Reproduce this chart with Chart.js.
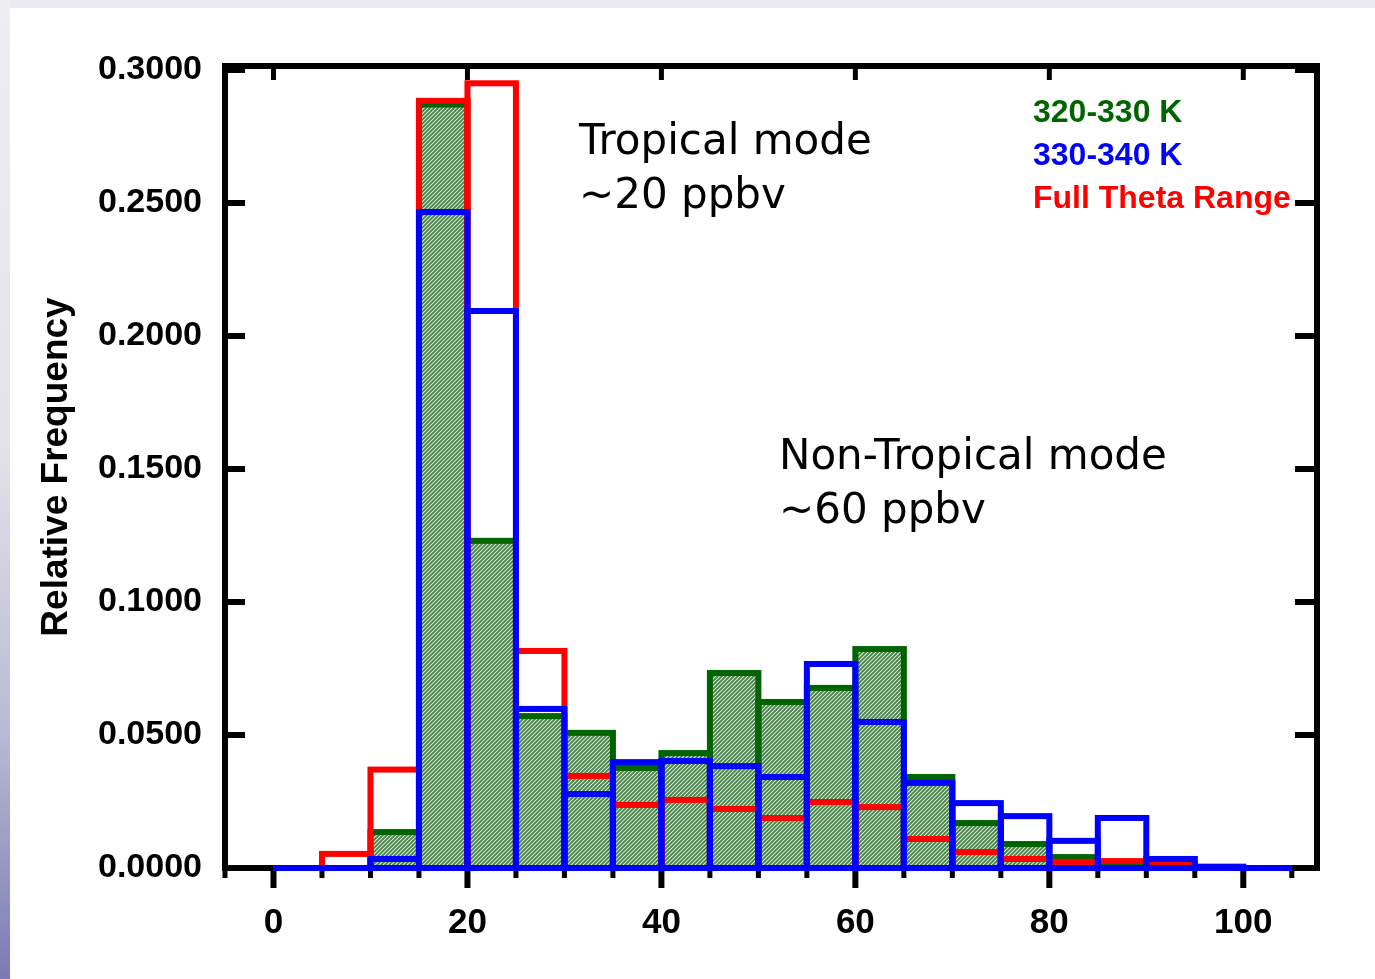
<!DOCTYPE html>
<html>
<head>
<meta charset="utf-8">
<title>Relative Frequency histogram</title>
<script src="https://cdn.jsdelivr.net/npm/chart.js@4.4.0/dist/chart.umd.min.js"></script>
<style>
  html, body { margin: 0; padding: 0; }
  body { width: 1375px; height: 979px; position: relative; overflow: hidden; background: #e9e9ef; }
  #side { position: absolute; left: 0; top: 0; width: 10px; height: 979px;
          background: linear-gradient(#ededf2 0%, #e3e3ea 45%, #b9b9d5 75%, #7b7bb3 100%); }
  #page { position: absolute; left: 10px; top: 8px; right: 0; bottom: 0; background: #fff; }
  canvas { position: absolute; left: 0; top: 0; }
</style>
</head>
<body>
<div id="side"></div>
<div id="page"></div>
<canvas id="histChart" width="1375" height="979"></canvas>
<script>
// bin left edges (ppbv), each bin is 5 wide
const binEdges = [0, 5, 10, 15, 20, 25, 30, 35, 40, 45, 50, 55, 60, 65, 70, 75, 80, 85, 90, 95, 100];
const binWidth = 5;

// relative frequency per bin
const freq320to330 = [0, 0, 0.0135, 0.287, 0.123, 0.0571, 0.0508, 0.0376, 0.0432, 0.0733, 0.0624,
                      0.0677, 0.0823, 0.0342, 0.0169, 0.0090, 0.0041, 0.0020, 0.0008, 0, 0];
const freqFull     = [0, 0.0053, 0.0370, 0.2884, 0.2950, 0.0816, 0.0346, 0.0237, 0.0256, 0.0222, 0.0188,
                      0.0248, 0.0229, 0.0109, 0.0060, 0.0034, 0.0023, 0.0026, 0.0015, 0, 0];
const freq330to340 = [0, 0, 0.0034, 0.2466, 0.2094, 0.0598, 0.0278, 0.0398, 0.0402, 0.0383, 0.0342,
                      0.0767, 0.0549, 0.0320, 0.0244, 0.0195, 0.0102, 0.0188, 0.0034, 0.0005, 0];

const seriesNames = ['320-330 K', 'Full Theta Range', '330-340 K'];
const legendOrder = ['320-330 K', '330-340 K', 'Full Theta Range'];

const xTickLabels = [0, 20, 40, 60, 80, 100];
const yTickLabels = [0, 0.05, 0.10, 0.15, 0.20, 0.25, 0.30];

const notes = [
    ['Tropical mode', '~20 ppbv'],
    ['Non-Tropical mode', '~60 ppbv']
];

const GREEN = '#006400', RED = '#ff0000', BLUE = '#0000ff';

// hatched green fill
function hatch() {
    const c = document.createElement('canvas');
    c.width = 4; c.height = 4;
    const g = c.getContext('2d');
    g.fillStyle = '#457f45';
    g.fillRect(0, 0, 4, 4);
    g.strokeStyle = 'rgba(232,242,232,0.9)';
    g.lineWidth = 1.2;
    g.beginPath();
    g.moveTo(0, 4); g.lineTo(4, 0);
    g.moveTo(-1, 1); g.lineTo(1, -1);
    g.moveTo(3, 5); g.lineTo(5, 3);
    g.stroke();
    return g.createPattern(c, 'repeat');
}

const toPoints = vals => vals.map((v, i) => ({ x: binEdges[i] + binWidth / 2, y: v }));

// frame, ticks, bar outlines and labels
const decor = {
    id: 'decor',
    beforeDatasetsDraw(chart) {
        const { ctx, chartArea: a, scales: { x, y } } = chart;
        ctx.save();
        ctx.strokeStyle = '#000';
        ctx.lineCap = 'butt';
        ctx.lineWidth = 6;
        ctx.strokeRect(a.left, a.top, a.right - a.left, a.bottom - a.top);

        const seg = (x1, y1, x2, y2, w) => {
            ctx.lineWidth = w;
            ctx.beginPath(); ctx.moveTo(x1, y1); ctx.lineTo(x2, y2); ctx.stroke();
        };
        for (let v = x.min; v <= 105.01; v += 5) {
            const px = x.getPixelForValue(v);
            if (xTickLabels.includes(Math.round(v))) {
                seg(px, a.bottom, px, a.bottom + 20, 6);
                seg(px, a.top, px, a.top + 14, 5);
            } else {
                seg(px, a.bottom, px, a.bottom + 10, 5);
            }
        }
        yTickLabels.forEach(v => {
            const py = y.getPixelForValue(v);
            seg(a.left, py, a.left + 20, py, 6);
            seg(a.right, py, a.right - 22, py, 6);
        });
        ctx.restore();
    },
    afterDatasetsDraw(chart) {
        const ctx = chart.ctx;
        ctx.save();
        ctx.lineWidth = 6;
        ctx.lineJoin = 'miter';
        chart.data.datasets.forEach((ds, i) => {
            const meta = chart.getDatasetMeta(i);
            ctx.strokeStyle = ds.outline;
            meta.data.forEach(bar => {
                const p = bar.getProps(['x', 'y', 'base', 'width'], true);
                ctx.strokeRect(p.x - p.width / 2, Math.min(p.y, p.base), p.width, Math.abs(p.base - p.y));
            });
        });
        ctx.restore();
    },
    afterDraw(chart) {
        const ctx = chart.ctx;
        ctx.save();
        // legend text
        ctx.font = 'bold 32px "Liberation Sans", Arial, sans-serif';
        ctx.textBaseline = 'alphabetic';
        ctx.textAlign = 'left';
        const colors = { '320-330 K': GREEN, '330-340 K': BLUE, 'Full Theta Range': RED };
        legendOrder.forEach((name, i) => {
            ctx.fillStyle = colors[name];
            ctx.fillText(name, 1033, 122 + i * 43);
        });
        // annotations
        ctx.fillStyle = '#000';
        ctx.font = '42px "DejaVu Sans", sans-serif';
        const spots = [[579, 154], [779, 469]];
        notes.forEach((lines, i) => {
            lines.forEach((t, j) => ctx.fillText(t, spots[i][0], spots[i][1] + j * 54));
        });
        ctx.restore();
    }
};

const ctx = document.getElementById('histChart');
const greenFill = hatch();

new Chart(ctx, {
    type: 'bar',
    data: {
        datasets: [
            {
                label: seriesNames[0],
                data: toPoints(freq320to330),
                backgroundColor: greenFill,
                outline: GREEN
            },
            {
                label: seriesNames[1],
                data: toPoints(freqFull),
                backgroundColor: 'rgba(0,0,0,0)',
                outline: RED
            },
            {
                label: seriesNames[2],
                data: toPoints(freq330to340),
                backgroundColor: 'rgba(0,0,0,0)',
                outline: BLUE
            }
        ]
    },
    options: {
        responsive: false,
        animation: false,
        devicePixelRatio: 1,
        layout: { padding: { top: 66, right: 58, bottom: 0, left: 0 } },
        datasets: {
            bar: {
                grouped: false,
                barPercentage: 1,
                categoryPercentage: 1,
                borderWidth: 0
            }
        },
        plugins: {
            legend: { display: false },
            tooltip: { enabled: false }
        },
        scales: {
            x: {
                type: 'linear',
                offset: false,
                min: -5,
                max: 107.6,
                grid: { display: false },
                border: { display: false },
                afterFit(scale) { scale.height = 111; },
                ticks: {
                    stepSize: 20,
                    includeBounds: false,
                    padding: 26,
                    color: '#000',
                    font: { family: '"Liberation Sans", Arial, sans-serif', size: 35, weight: 'bold' },
                    callback: v => xTickLabels.includes(v) ? String(v) : ''
                }
            },
            y: {
                min: 0,
                max: 0.3015,
                grid: { display: false },
                border: { display: false },
                afterFit(scale) { scale.width = 225; },
                title: {
                    display: true,
                    text: 'Relative Frequency',
                    color: '#000',
                    padding: { top: 35, bottom: 0 },
                    font: { family: '"Liberation Sans", Arial, sans-serif', size: 37, weight: 'bold' }
                },
                ticks: {
                    stepSize: 0.05,
                    includeBounds: false,
                    padding: 15,
                    color: '#000',
                    font: { family: '"Liberation Sans", Arial, sans-serif', size: 34, weight: 'bold' },
                    callback: v => v.toFixed(4)
                }
            }
        }
    },
    plugins: [decor]
});
</script>
</body>
</html>
